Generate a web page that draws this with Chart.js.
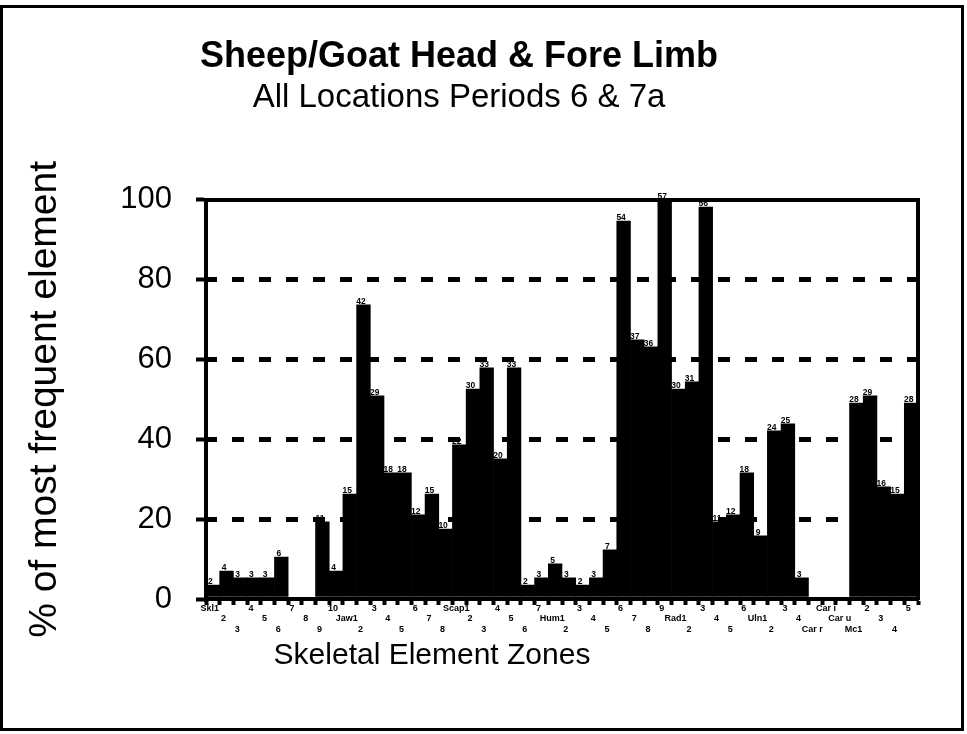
<!DOCTYPE html>
<html>
<head>
<meta charset="utf-8">
<script src="https://cdn.jsdelivr.net/npm/chart.js@4"></script>
<style>
  html, body { margin: 0; padding: 0; background: #fff; }
  #wrap { position: relative; width: 967px; height: 734px; }
  #frame {
    position: absolute; left: 0; top: 5px; width: 964px; height: 726px;
    border: 3px solid #000; box-sizing: border-box; pointer-events: none;
  }
</style>
</head>
<body>
<div id="wrap">
  <canvas id="chart"></canvas>
  <div id="frame"></div>
</div>
<script>
// zone names along the x axis (Skl, Jaw, Scap, Hum, Rad, Uln, Carpals, Mc)
const zoneLabels = [
  'Skl1', '2', '3', '4', '5', '6', '7', '8', '9', '10',
  'Jaw1', '2', '3', '4', '5', '6', '7', '8',
  'Scap1', '2', '3', '4', '5', '6', '7',
  'Hum1', '2', '3', '4', '5', '6', '7', '8', '9',
  'Rad1', '2', '3', '4', '5', '6',
  'Uln1', '2', '3', '4',
  'Car r', 'Car i', 'Car u',
  'Mc1', '2', '3', '4', '5'
];

// counts printed above the bars
const zoneCounts = [
  2, 4, 3, 3, 3, 6, 0, 0, 11, 4,
  15, 42, 29, 18, 18, 12, 15, 10,
  22, 30, 33, 20, 33, 2, 3,
  5, 3, 2, 3, 7, 54, 37, 36, 57,
  30, 31, 56, 11, 12, 18,
  9, 24, 25, 3,
  0, 0, 0,
  28, 29, 16, 15, 28
];

// bar heights, % of most frequent element
const zonePercent = [
  3.5, 7.0, 5.3, 5.3, 5.3, 10.5, 0, 0, 19.3, 7.0,
  26.3, 73.7, 50.9, 31.6, 31.6, 21.1, 26.3, 17.5,
  38.6, 52.6, 57.9, 35.1, 57.9, 3.5, 5.3,
  8.8, 5.3, 3.5, 5.3, 12.3, 94.7, 64.9, 63.2, 100,
  52.6, 54.4, 98.2, 19.3, 21.1, 31.6,
  15.8, 42.1, 43.9, 5.3,
  0, 0, 0,
  49.1, 50.9, 28.1, 26.3, 49.1
];

const yTicks = [0, 20, 40, 60, 80, 100];

const FONT = "'Liberation Sans', Arial, Helvetica, sans-serif";

// small count labels sitting on top of each bar
const countLabels = {
  id: 'countLabels',
  afterDatasetsDraw(chart) {
    const meta = chart.getDatasetMeta(0);
    const ctx = chart.ctx;
    ctx.save();
    ctx.fillStyle = '#000';
    ctx.font = 'bold 8.5px ' + FONT;
    ctx.textAlign = 'center';
    ctx.textBaseline = 'alphabetic';
    meta.data.forEach((bar, i) => {
      const n = zoneCounts[i];
      if (!n) return;
      ctx.fillText(String(n), bar.x - 2.5, bar.y - 1);
    });
    ctx.restore();
  }
};

// x axis title sits left of the plot centre in the original
const zoneTitle = {
  id: 'zoneTitle',
  afterDraw(chart, args, opts) {
    const ctx = chart.ctx;
    const area = chart.chartArea;
    ctx.save();
    ctx.fillStyle = '#000';
    ctx.font = opts.size + 'px ' + FONT;
    ctx.textAlign = 'center';
    ctx.textBaseline = 'middle';
    ctx.fillText(opts.text, area.left + opts.dx, area.bottom + opts.dy);
    ctx.restore();
  }
};

new Chart(document.getElementById('chart'), {
  type: 'bar',
  data: {
    labels: zoneLabels,
    datasets: [{
      data: zonePercent,
      backgroundColor: '#000',
      borderWidth: 0,
      barPercentage: 1,
      categoryPercentage: 1,
    }]
  },
  options: {
    responsive: true,
    maintainAspectRatio: false,
    animation: false,
    layout: { padding: { left: 0, right: 49, top: 0, bottom: 95 } },
    scales: {
      x: {
        offset: true,
        grid: {
          display: true,
          drawOnChartArea: false,
          drawTicks: true,
          offset: true,
          tickLength: 6,
          tickWidth: 4,
          tickColor: '#000',
        },
        border: { display: true, color: '#000', width: 4 },
        ticks: {
          autoSkip: false,
          maxRotation: 0,
          minRotation: 0,
          padding: -2,
          labelOffset: -3,
          color: '#000',
          font: { family: FONT, size: 9, weight: 'bold', lineHeight: 1.18 },
          callback: function(value, index) {
            const row = index % 3;
            const lines = [];
            for (let r = 0; r < row; r++) lines.push('');
            lines.push(zoneLabels[index]);
            return lines;
          }
        },
        afterFit(scale) { scale.height = 40; }
      },
      xTop: {
        type: 'category',
        position: 'top',
        labels: zoneLabels,
        grid: { display: false, drawTicks: false },
        ticks: { display: false },
        border: { display: true, color: '#000', width: 4 },
      },
      y: {
        min: 0,
        max: 100,
        afterBuildTicks(scale) { scale.ticks = yTicks.map(v => ({ value: v })); },
        grid: {
          color: ctx => (ctx.tick && (ctx.tick.value === 0 || ctx.tick.value === 100)) ? 'rgba(0,0,0,0)' : '#000',
          lineWidth: 5,
          drawTicks: true,
          tickLength: 10,
          tickWidth: 4,
          tickColor: '#000',
        },
        border: { display: true, color: '#000', width: 4, dash: [12, 15], dashOffset: 3 },
        ticks: {
          padding: 24,
          color: '#000',
          font: { family: FONT, size: 31 },
        },
        title: {
          display: true,
          text: '% of most frequent element',
          color: '#000',
          font: { family: FONT, size: 39 },
          padding: { top: 22, bottom: 0 },
        },
        afterFit(scale) { scale.width = 206; }
      },
      yRight: {
        type: 'linear',
        position: 'right',
        min: 0,
        max: 100,
        grid: { display: false, drawTicks: false },
        ticks: { display: false },
        border: { display: true, color: '#000', width: 4 },
      }
    },
    plugins: {
      legend: { display: false },
      tooltip: { enabled: false },
      title: {
        display: true,
        text: 'Sheep/Goat Head & Fore Limb',
        color: '#000',
        font: { family: FONT, size: 36, weight: 'bold', lineHeight: 1.2 },
        padding: { top: 35, bottom: 0 },
      },
      subtitle: {
        display: true,
        text: 'All Locations Periods 6 & 7a',
        color: '#000',
        font: { family: FONT, size: 33, lineHeight: 1.2 },
        padding: { top: 0, bottom: 82 },
      },
      zoneTitle: { text: 'Skeletal Element Zones', size: 30, dx: 226, dy: 57 },
    }
  },
  plugins: [countLabels, zoneTitle]
});
</script>
</body>
</html>
